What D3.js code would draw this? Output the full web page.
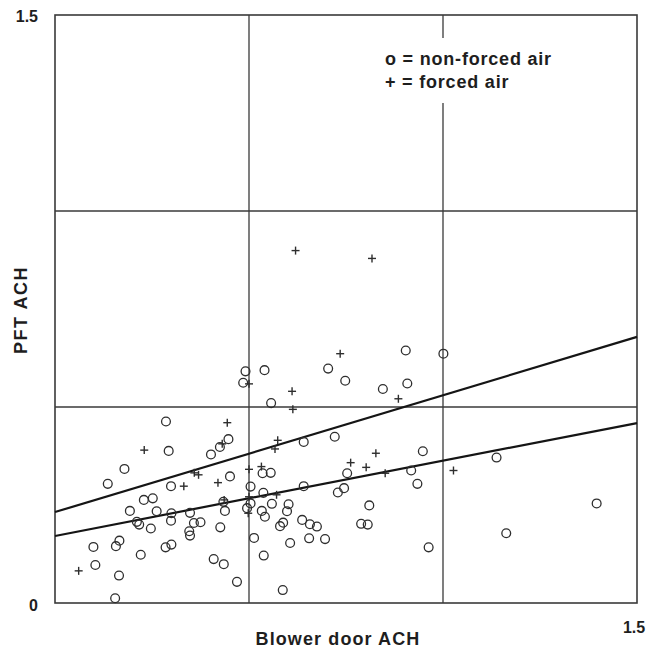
<html>
<head>
<script src="https://d3js.org/d3.v7.min.js"></script>
<style>
body { margin: 0; background: #fff; }
svg text {
  font-family: "Liberation Sans", Arial, Helvetica, sans-serif;
  font-weight: bold;
  fill: #1e1e1e;
}
.frame { fill: none; stroke: #3a3a3a; stroke-width: 1.6; }
.grid line { stroke: #3a3a3a; stroke-width: 1.3; }
.fit { fill: none; stroke: #151515; stroke-width: 2.2; }
.nf { fill: none; stroke: #2e2e2e; stroke-width: 1.3; }
.fa { stroke: #2e2e2e; stroke-width: 1.4; }
</style>
<title>PFT vs Blower door ACH</title>
</head>
<body>
<svg width="651" height="649"></svg>
<script>

// non-forced air houses (o): [blower door ACH, PFT ACH]
var nonForced = [
  [0.491, 0.591], [0.540, 0.594], [0.485, 0.562], [0.704, 0.598], [0.557, 0.510],
  [0.286, 0.463], [0.447, 0.418], [0.425, 0.398], [0.402, 0.379], [0.293, 0.388],
  [0.641, 0.411], [0.179, 0.342], [0.136, 0.304], [0.299, 0.298], [0.451, 0.323],
  [0.535, 0.331], [0.556, 0.332], [0.641, 0.298], [0.504, 0.297], [0.537, 0.281],
  [0.229, 0.263], [0.252, 0.267], [0.193, 0.235], [0.262, 0.234], [0.300, 0.229],
  [0.299, 0.210], [0.348, 0.230], [0.434, 0.258], [0.438, 0.235], [0.495, 0.242],
  [0.504, 0.254], [0.559, 0.253], [0.533, 0.235], [0.541, 0.220], [0.602, 0.252],
  [0.598, 0.234], [0.580, 0.196], [0.588, 0.205], [0.637, 0.212], [0.657, 0.201],
  [0.675, 0.195], [0.211, 0.207], [0.217, 0.200], [0.247, 0.190], [0.358, 0.204],
  [0.375, 0.206], [0.346, 0.183], [0.348, 0.172], [0.426, 0.193], [0.513, 0.166],
  [0.606, 0.153], [0.655, 0.165], [0.696, 0.163], [0.099, 0.143], [0.157, 0.145],
  [0.166, 0.159], [0.221, 0.123], [0.285, 0.142], [0.300, 0.149], [0.104, 0.097],
  [0.165, 0.070], [0.409, 0.112], [0.435, 0.099], [0.469, 0.054], [0.538, 0.121],
  [0.587, 0.033], [0.155, 0.012], [0.748, 0.567], [0.904, 0.644], [1.001, 0.636],
  [0.845, 0.546], [0.908, 0.560], [0.721, 0.424], [0.948, 0.387], [1.138, 0.371],
  [0.753, 0.331], [0.918, 0.338], [0.934, 0.304], [0.745, 0.293], [0.729, 0.282],
  [0.810, 0.249], [1.396, 0.254], [0.789, 0.202], [0.806, 0.200], [0.963, 0.142],
  [1.163, 0.178]
];

// forced air houses (+)
var forced = [
  [0.620, 0.899], [0.817, 0.879], [0.735, 0.636], [0.611, 0.540], [0.613, 0.494],
  [0.885, 0.521], [0.500, 0.559], [0.444, 0.460], [0.230, 0.390], [0.431, 0.406],
  [0.574, 0.415], [0.567, 0.393], [0.359, 0.332], [0.370, 0.327], [0.332, 0.298],
  [0.420, 0.307], [0.500, 0.341], [0.532, 0.348], [0.762, 0.358], [0.827, 0.382],
  [0.802, 0.346], [0.851, 0.331], [1.027, 0.338], [0.061, 0.082], [0.436, 0.263],
  [0.498, 0.229], [0.571, 0.276], [0.500, 0.271]
];

// fitted lines, read at both ends of the axis
var fitUpper = [[0, 0.232], [1.5, 0.679]];
var fitLower = [[0, 0.171], [1.5, 0.459]];

var gridValues = [0.5, 1.0];
var legendLines = ["o = non-forced air", "+ = forced air"];

var svg = d3.select("svg");

var x = d3.scaleLinear().domain([0, 1.5]).range([55, 637]),
    y = d3.scaleLinear().domain([0, 1.5]).range([603, 15]);

var grid = svg.append("g").attr("class", "grid");

grid.selectAll(".gx")
    .data(gridValues)
  .enter().append("line")
    .attr("x1", function(d) { return x(d); })
    .attr("x2", function(d) { return x(d); })
    .attr("y1", y(0))
    .attr("y2", y(1.5));

grid.selectAll(".gy")
    .data(gridValues)
  .enter().append("line")
    .attr("x1", x(0))
    .attr("x2", x(1.5))
    .attr("y1", function(d) { return y(d); })
    .attr("y2", function(d) { return y(d); });

svg.append("rect")
    .attr("class", "frame")
    .attr("x", x(0))
    .attr("y", y(1.5))
    .attr("width", x(1.5) - x(0))
    .attr("height", y(0) - y(1.5));

// legend sits on top of the x=1.0 gridline, blanking it
var legend = svg.append("g");
legend.append("rect")
    .attr("x", x(1.0) - 4)
    .attr("y", 38)
    .attr("width", 8)
    .attr("height", 65)
    .attr("fill", "#fff");
legend.selectAll("text")
    .data(legendLines)
  .enter().append("text")
    .attr("x", 385)
    .attr("y", function(d, i) { return 65 + i * 23; })
    .style("font-size", "18px")
    .style("letter-spacing", "0.8px")
    .text(function(d) { return d; });

var line = d3.line()
    .x(function(d) { return x(d[0]); })
    .y(function(d) { return y(d[1]); });

svg.append("path").datum(fitUpper).attr("class", "fit").attr("d", line);
svg.append("path").datum(fitLower).attr("class", "fit").attr("d", line);

svg.append("g").selectAll("circle")
    .data(nonForced)
  .enter().append("circle")
    .attr("class", "nf")
    .attr("cx", function(d) { return x(d[0]); })
    .attr("cy", function(d) { return y(d[1]); })
    .attr("r", 4.4);

var pl = svg.append("g").selectAll("g")
    .data(forced)
  .enter().append("g")
    .attr("class", "fa")
    .attr("transform", function(d) { return "translate(" + x(d[0]) + "," + y(d[1]) + ")"; });
pl.append("line").attr("x1", -4).attr("x2", 4);
pl.append("line").attr("y1", -4).attr("y2", 4);

// axis end labels
svg.append("text")
    .attr("x", 38).attr("y", 22)
    .attr("text-anchor", "end")
    .style("font-size", "16px")
    .text("1.5");
svg.append("text")
    .attr("x", 38).attr("y", 611)
    .attr("text-anchor", "end")
    .style("font-size", "16px")
    .text("0");
svg.append("text")
    .attr("x", 634).attr("y", 633)
    .attr("text-anchor", "middle")
    .style("font-size", "16px")
    .text("1.5");

svg.append("text")
    .attr("x", 338).attr("y", 645)
    .attr("text-anchor", "middle")
    .style("font-size", "18px")
    .style("letter-spacing", "1.1px")
    .text("Blower door ACH");

svg.append("text")
    .attr("transform", "translate(27,310) rotate(-90)")
    .attr("text-anchor", "middle")
    .style("font-size", "18px")
    .style("letter-spacing", "1.5px")
    .text("PFT ACH");

</script>
</body>
</html>
